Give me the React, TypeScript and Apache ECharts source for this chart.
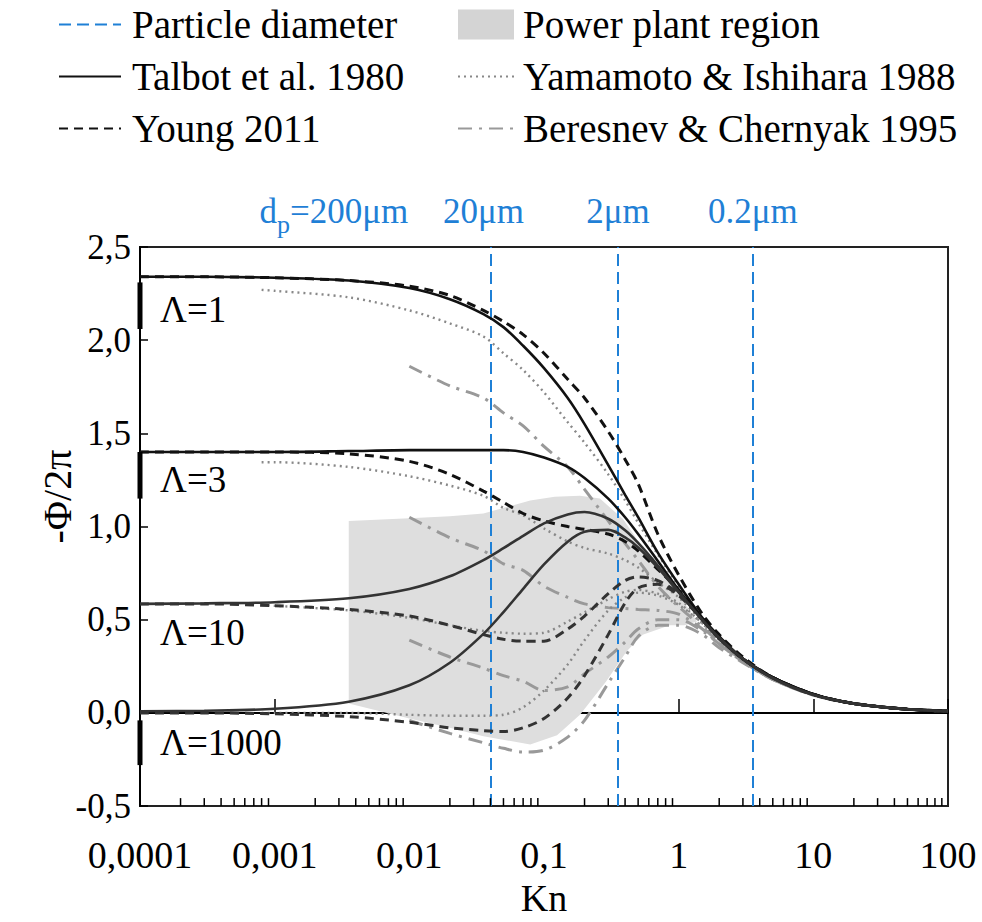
import React, { useEffect, useRef } from 'react';
import * as echarts from 'echarts';

// ---------- data ----------
const KN = [1e-4, 3e-4, 1e-3, 3.55e-3, 1e-2, 2e-2, 3.55e-2, 5e-2, 7e-2, 0.1, 0.15, 0.2, 0.3, 0.4, 0.5, 0.7, 1, 1.5, 2, 3, 5, 10, 20, 50, 100];
const TALBOT_L1 = [2.34, 2.34, 2.335, 2.32, 2.28, 2.22, 2.14, 2.07, 1.97, 1.85, 1.69, 1.55, 1.33, 1.17, 1.05, 0.86, 0.69, 0.51, 0.41, 0.29, 0.19, 0.10, 0.05, 0.02, 0.01];
const TALBOT_L3 = [1.40, 1.40, 1.40, 1.405, 1.41, 1.41, 1.41, 1.41, 1.40, 1.37, 1.32, 1.26, 1.15, 1.05, 0.96, 0.815, 0.66, 0.50, 0.405, 0.29, 0.19, 0.10, 0.05, 0.02, 0.01];
const TALBOT_L10 = [0.585, 0.588, 0.594, 0.615, 0.665, 0.733, 0.82, 0.884, 0.95, 1.017, 1.065, 1.078, 1.042, 0.98, 0.912, 0.791, 0.651, 0.499, 0.403, 0.29, 0.186, 0.097, 0.05, 0.02, 0.01];
const TALBOT_L1000 = [0.009, 0.012, 0.022, 0.06, 0.148, 0.269, 0.424, 0.541, 0.666, 0.797, 0.919, 0.972, 0.982, 0.942, 0.888, 0.779, 0.646, 0.497, 0.402, 0.29, 0.186, 0.097, 0.05, 0.02, 0.01];
const YOUNG_L1 = [2.34, 2.34, 2.335, 2.32, 2.29, 2.24, 2.16, 2.10, 2.03, 1.93, 1.79, 1.69, 1.51, 1.36, 1.23, 0.96, 0.74, 0.53, 0.42, 0.30, 0.19, 0.10, 0.05, 0.02, 0.01];
const YOUNG_L3 = [1.40, 1.40, 1.40, 1.39, 1.35, 1.28, 1.19, 1.13, 1.07, 1.03, 1.00, 0.985, 0.96, 0.92, 0.87, 0.77, 0.66, 0.50, 0.40, 0.29, 0.19, 0.10, 0.05, 0.02, 0.01];
const YOUNG_L10 = [0.585, 0.585, 0.575, 0.555, 0.52, 0.47, 0.42, 0.395, 0.385, 0.385, 0.45, 0.52, 0.64, 0.71, 0.73, 0.71, 0.64, 0.50, 0.40, 0.29, 0.19, 0.10, 0.05, 0.02, 0.01];
const YOUNG_L1000 = [0.0, 0.0, -0.005, -0.02, -0.05, -0.08, -0.095, -0.10, -0.08, -0.03, 0.08, 0.20, 0.42, 0.59, 0.67, 0.69, 0.63, 0.50, 0.40, 0.29, 0.19, 0.10, 0.05, 0.02, 0.01];

const KN_YAMAMOTO = [8e-4, 1e-3, 3.55e-3, 1e-2, 2e-2, 3.55e-2, 5e-2, 7e-2, 0.1, 0.15, 0.2, 0.3, 0.4, 0.5, 0.7, 1, 1.5, 2, 3, 5, 10, 20, 50, 100];
const YAMAMOTO_L1 = [2.27, 2.265, 2.23, 2.16, 2.09, 2.02, 1.93, 1.84, 1.72, 1.56, 1.45, 1.28, 1.14, 1.02, 0.85, 0.68, 0.51, 0.41, 0.29, 0.19, 0.10, 0.05, 0.02, 0.01];
const YAMAMOTO_L3 = [1.345, 1.345, 1.32, 1.27, 1.22, 1.165, 1.10, 1.06, 0.99, 0.92, 0.885, 0.855, 0.82, 0.78, 0.70, 0.62, 0.49, 0.40, 0.29, 0.19, 0.10, 0.05, 0.02, 0.01];
const YAMAMOTO_L10 = [0.58, 0.575, 0.55, 0.51, 0.47, 0.44, 0.43, 0.425, 0.43, 0.49, 0.54, 0.61, 0.65, 0.66, 0.64, 0.59, 0.48, 0.39, 0.28, 0.185, 0.10, 0.05, 0.02, 0.01];
const YAMAMOTO_L1000 = [0.0, 0.0, 0.0, -0.01, -0.015, -0.015, -0.01, 0.03, 0.12, 0.26, 0.39, 0.55, 0.62, 0.645, 0.63, 0.58, 0.48, 0.39, 0.28, 0.185, 0.10, 0.05, 0.02, 0.01];

const KN_BERESNEV = [0.01, 0.02, 0.0355, 0.05, 0.07, 0.1, 0.15, 0.2, 0.3, 0.4, 0.5, 0.7, 1, 1.5, 2, 3, 5, 10, 20, 50, 100];
const BERESNEV_L1 = [1.86, 1.755, 1.69, 1.61, 1.54, 1.43, 1.32, 1.20, 1.03, 0.91, 0.82, 0.68, 0.57, 0.46, 0.38, 0.28, 0.18, 0.096, 0.05, 0.02, 0.01];
const BERESNEV_L3 = [1.05, 0.94, 0.87, 0.80, 0.765, 0.68, 0.62, 0.585, 0.565, 0.56, 0.555, 0.55, 0.53, 0.45, 0.37, 0.275, 0.18, 0.096, 0.05, 0.02, 0.01];
const BERESNEV_L10 = [0.39, 0.30, 0.24, 0.20, 0.17, 0.12, 0.14, 0.21, 0.30, 0.38, 0.45, 0.50, 0.50, 0.44, 0.37, 0.275, 0.18, 0.096, 0.05, 0.02, 0.01];
const BERESNEV_L1000 = [-0.04, -0.11, -0.16, -0.19, -0.21, -0.20, -0.13, -0.04, 0.16, 0.30, 0.41, 0.47, 0.47, 0.42, 0.35, 0.27, 0.18, 0.096, 0.05, 0.02, 0.01];

const REGION_KN = [0.00355, 0.01, 0.02, 0.0355, 0.079, 0.12, 0.185, 0.26, 0.386, 0.612, 0.97, 1.37, 1.1, 0.86, 0.54, 0.41, 0.29, 0.185, 0.125, 0.079, 0.0355, 0.02, 0.01, 0.00355];
const REGION_V = [1.03, 1.045, 1.055, 1.07, 1.14, 1.16, 1.165, 1.15, 1.04, 0.83, 0.65, 0.49, 0.47, 0.47, 0.42, 0.33, 0.17, -0.01, -0.12, -0.17, -0.125, -0.08, -0.03, 0.05];

const PARTICLE_KN = [0.00355, 0.0355, 0.355, 3.55];
const PARTICLE_LABELS = ['{d|d}{p|p}{n|=200μm}', '20μm', '2μm', '0.2μm'];

const LAMBDA_LABELS = ['Λ=1', 'Λ=3', 'Λ=10', 'Λ=1000'];
const AXIS_BAR_TOP = [2.31, 1.40, -0.04];
const AXIS_BAR_BOTTOM = [2.06, 1.15, -0.28];

const X_TICK_LABELS = ['0,0001', '0,001', '0,01', '0,1', '1', '10', '100'];
const Y_TICK_LABELS = ['-0,5', '0,0', '0,5', '1,0', '1,5', '2,0', '2,5'];
const DECADES = [1e-4, 1e-3, 1e-2, 1e-1, 1, 10];
const MINOR_MULT = [2, 3, 4, 5, 6, 7, 8, 9];

// ---------- positions / styles (not data) ----------
const LAMBDA_POS = [[1.41e-4, 2.167], [1.41e-4, 1.255], [1.41e-4, 0.43], [1.41e-4, -0.16]];
const PARTICLE_LABEL_DX = [-15, 0, 0, 0];
const FONT = 'Liberation Serif';
const BLUE = '#1f80d6';

const STYLE: any = {
  talbot: { color: '#111', width: 2.6, type: 'solid' },
  talbotLow: { color: '#333', width: 2.6, type: 'solid' },
  young: { color: '#111', width: 3, type: [9, 6] },
  youngLow: { color: '#333', width: 3, type: [9, 6] },
  yamamoto: { color: '#888', width: 2.4, type: [2, 4] },
  beresnev: { color: '#999', width: 3, type: [14, 7, 3, 7] },
};

function line(name: string, kn: number[], vals: number[], st: any, z: number) {
  return {
    type: 'line',
    name,
    data: kn.map((k, i) => [k, vals[i]]),
    showSymbol: false,
    symbol: 'none',
    smooth: 0.3,
    lineStyle: { color: st.color, width: st.width, type: st.type },
    itemStyle: { color: st.color },
    z,
    silent: true,
  };
}

const HIDE_SYMBOL = { opacity: 0 };

export default function App() {
  const ref = useRef<HTMLDivElement>(null);
  useEffect(() => {
    if (!ref.current) return;
    const chart = echarts.init(ref.current, null, { renderer: 'svg' });
    const minorTicks = DECADES.flatMap((d) => MINOR_MULT.map((m) => m * d));

    const option: any = {
      animation: false,
      textStyle: { fontFamily: FONT },
      grid: { left: 140, right: 34, top: 247, bottom: 113, show: true, borderColor: '#222', borderWidth: 2, backgroundColor: 'transparent' },
      legend: [
        {
          orient: 'vertical', left: 53, top: 0, itemWidth: 62, itemHeight: 30, itemGap: 13, selectedMode: false,
          textStyle: { fontSize: 39, fontFamily: FONT, color: '#000', padding: [0, 0, 0, 6] },
          data: [
            { name: 'Particle diameter', itemStyle: HIDE_SYMBOL },
            { name: 'Talbot et al. 1980', itemStyle: HIDE_SYMBOL },
            { name: 'Young 2011', itemStyle: HIDE_SYMBOL },
          ],
        },
        {
          orient: 'vertical', left: 452, top: 0, itemWidth: 56, itemHeight: 30, itemGap: 13, selectedMode: false,
          textStyle: { fontSize: 39, fontFamily: FONT, color: '#000', padding: [0, 0, 0, 4] },
          data: [
            { name: 'Power plant region', icon: 'rect' },
            { name: 'Yamamoto & Ishihara 1988', itemStyle: HIDE_SYMBOL },
            { name: 'Beresnev & Chernyak 1995', itemStyle: HIDE_SYMBOL },
          ],
        },
      ],
      xAxis: {
        type: 'log', logBase: 10, min: 1e-4, max: 100,
        axisLine: { lineStyle: { color: '#000', width: 2 } },
        axisTick: { inside: true, length: 14, lineStyle: { color: '#000', width: 1.5 } },
        axisLabel: {
          margin: 30, fontSize: 38, fontFamily: FONT, color: '#000',
          formatter: (v: number) => X_TICK_LABELS[Math.round(Math.log10(v)) + 4] ?? '',
        },
        splitLine: { show: false },
        name: 'Kn', nameLocation: 'middle', nameGap: 72,
        nameTextStyle: { fontSize: 38, fontFamily: FONT, color: '#000' },
      },
      yAxis: {
        type: 'value', min: -0.5, max: 2.5, interval: 0.5,
        axisLine: { show: true, lineStyle: { color: '#000', width: 2 } },
        axisTick: { show: true, inside: true, length: 8, lineStyle: { color: '#000', width: 1.5 } },
        axisLabel: {
          margin: 9, fontSize: 35, fontFamily: FONT, color: '#000',
          formatter: (v: number) => Y_TICK_LABELS[Math.round((v + 0.5) / 0.5)] ?? '',
        },
        splitLine: { show: false },
        name: '-Φ/2π', nameLocation: 'middle', nameGap: 63, nameMoveOverlap: false,
        nameTextStyle: { fontSize: 40, fontFamily: FONT, color: '#000', padding: [0, 0, 0, 60] },
      },
      series: [
        {
          type: 'custom', name: 'Power plant region', coordinateSystem: 'cartesian2d',
          data: [[REGION_KN[0], REGION_V[0]]], z: 1, silent: true,
          itemStyle: { color: '#d4d4d4' },
          renderItem: (_p: any, api: any) => ({
            type: 'polygon',
            shape: { points: REGION_KN.map((k, i) => api.coord([k, REGION_V[i]])) },
            style: { fill: '#dedede' },
          }),
        },
        {
          type: 'line', name: 'Particle diameter', data: [], z: 2, symbol: 'none',
          lineStyle: { color: BLUE, width: 2, type: [12, 6] },
          itemStyle: { color: BLUE },
          markLine: {
            silent: true, symbol: 'none', label: { show: false },
            lineStyle: { color: BLUE, width: 2, type: [12, 6] },
            data: PARTICLE_KN.map((k) => ({ xAxis: k })),
          },
        },
        line('Beresnev & Chernyak 1995', KN_BERESNEV, BERESNEV_L1, STYLE.beresnev, 3),
        line('Beresnev & Chernyak 1995', KN_BERESNEV, BERESNEV_L3, STYLE.beresnev, 3),
        line('Beresnev & Chernyak 1995', KN_BERESNEV, BERESNEV_L10, STYLE.beresnev, 3),
        line('Beresnev & Chernyak 1995', KN_BERESNEV, BERESNEV_L1000, STYLE.beresnev, 3),
        line('Yamamoto & Ishihara 1988', KN_YAMAMOTO, YAMAMOTO_L1, STYLE.yamamoto, 4),
        line('Yamamoto & Ishihara 1988', KN_YAMAMOTO, YAMAMOTO_L3, STYLE.yamamoto, 4),
        line('Yamamoto & Ishihara 1988', KN_YAMAMOTO, YAMAMOTO_L10, STYLE.yamamoto, 4),
        line('Yamamoto & Ishihara 1988', KN_YAMAMOTO, YAMAMOTO_L1000, STYLE.yamamoto, 4),
        line('Young 2011', KN, YOUNG_L1, STYLE.young, 5),
        line('Young 2011', KN, YOUNG_L3, STYLE.young, 5),
        line('Young 2011', KN, YOUNG_L10, STYLE.youngLow, 5),
        line('Young 2011', KN, YOUNG_L1000, STYLE.youngLow, 5),
        line('Talbot et al. 1980', KN, TALBOT_L1, STYLE.talbot, 6),
        line('Talbot et al. 1980', KN, TALBOT_L3, STYLE.talbot, 6),
        line('Talbot et al. 1980', KN, TALBOT_L10, STYLE.talbotLow, 6),
        line('Talbot et al. 1980', KN, TALBOT_L1000, STYLE.talbotLow, 6),
        {
          type: 'custom', name: 'minorTicks', coordinateSystem: 'cartesian2d', silent: true, z: 7,
          data: minorTicks.map((k) => [k, -0.5]),
          renderItem: (_p: any, api: any) => {
            const p = api.coord([api.value(0), api.value(1)]);
            return { type: 'line', shape: { x1: p[0], y1: p[1], x2: p[0], y2: p[1] - 8 }, style: { stroke: '#000', lineWidth: 1.5 } };
          },
        },
        {
          type: 'custom', name: 'axisBars', coordinateSystem: 'cartesian2d', silent: true, z: 8, clip: false,
          data: AXIS_BAR_TOP.map((t, i) => [1e-4, t, AXIS_BAR_BOTTOM[i]]),
          encode: { x: 0, y: [1, 2] },
          renderItem: (_p: any, api: any) => {
            const a = api.coord([api.value(0), api.value(1)]);
            const b = api.coord([api.value(0), api.value(2)]);
            return { type: 'rect', shape: { x: a[0] - 2.5, y: a[1], width: 5, height: b[1] - a[1] }, style: { fill: '#000' } };
          },
        },
        {
          type: 'custom', name: 'lambdaLabels', coordinateSystem: 'cartesian2d', silent: true, z: 9, clip: false,
          data: LAMBDA_POS,
          renderItem: (p: any, api: any) => {
            const c = api.coord([api.value(0), api.value(1)]);
            return {
              type: 'text', x: c[0], y: c[1],
              style: { text: LAMBDA_LABELS[p.dataIndex], fontSize: 37, fontFamily: FONT, fill: '#000', align: 'left', verticalAlign: 'middle' },
            };
          },
        },
        {
          type: 'custom', name: 'particleLabels', coordinateSystem: 'cartesian2d', silent: true, z: 9, clip: false,
          data: PARTICLE_KN.map((k) => [k, 2.5]),
          renderItem: (p: any, api: any) => {
            const c = api.coord([api.value(0), api.value(1)]);
            return {
              type: 'text', x: c[0] + PARTICLE_LABEL_DX[p.dataIndex], y: c[1] - 36,
              style: {
                text: PARTICLE_LABELS[p.dataIndex], fontSize: 35, fontFamily: FONT, fill: BLUE,
                align: 'center', verticalAlign: 'middle',
                rich: {
                  d: { fontSize: 35, fontFamily: FONT, fill: BLUE },
                  p: { fontSize: 26, fontFamily: FONT, fill: BLUE, padding: [26, 0, 0, 0] },
                  n: { fontSize: 35, fontFamily: FONT, fill: BLUE },
                },
              },
            };
          },
        },
      ],
    };
    chart.setOption(option);
    return () => chart.dispose();
  }, []);
  return <div ref={ref} style={{ position: 'absolute', left: 0, top: 0, width: 982, height: 922 }} />;
}
